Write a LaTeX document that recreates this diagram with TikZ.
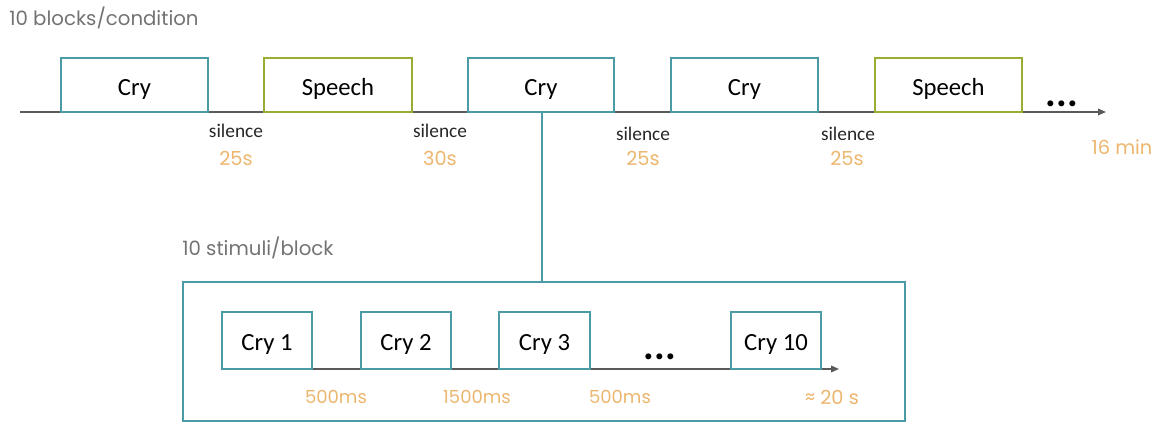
\documentclass[tikz,border=0pt]{standalone}
\usepackage{fontspec}
\setmainfont{Carlito}
\newfontfamily\gothic{Poppins}
\usetikzlibrary{arrows.meta}
\definecolor{teal}{RGB}{75,155,165}
\definecolor{olive}{RGB}{155,172,50}
\definecolor{orng}{RGB}{236,182,110}
\definecolor{greytxt}{RGB}{115,115,115}
\definecolor{axis}{RGB}{90,90,90}
\tikzset{
  crybox/.style={draw=teal, line width=1.6pt, fill=white, inner sep=0pt},
  speechbox/.style={draw=olive, line width=1.6pt, fill=white, inner sep=0pt},
  lbl/.style={font=\fontsize{18.5}{20}\selectfont, text=black, text height=17pt, text depth=1pt},
  ilbl/.style={font=\fontsize{18.5}{20}\selectfont, text=black, text height=16pt, text depth=1pt},
  sil/.style={font=\fontsize{14.5}{16}\selectfont, text=black!85, inner sep=0pt},
  dur/.style={font=\gothic\fontsize{14.5}{16}\selectfont, text=orng, inner sep=0pt},
  ms/.style={font=\gothic\fontsize{13.5}{16}\selectfont, text=orng, inner sep=0pt},
  ttl/.style={font=\gothic\fontsize{14.8}{16}\selectfont, text=greytxt, inner sep=0pt},
  axisline/.style={draw=axis, line width=1pt},
  dots/.style={font=\bfseries\fontsize{30}{30}\selectfont, inner sep=0pt},
}
\begin{document}
\begin{tikzpicture}[x=0.75pt,y=-0.75pt]
\useasboundingbox (0,0) rectangle (1167,423);
% title
\node[ttl, anchor=west] (title) at (9,18) {10 blocks/condition};
% timeline
\coordinate (tlstart) at (20,112);
\coordinate (tlend) at (1106,112);
\draw[axisline, -{Triangle[length=6pt,width=5pt]}] (tlstart) -- (tlend);
% top boxes
\node[crybox, minimum width=147*0.75pt, minimum height=54*0.75pt, lbl] (b1) at (134.5,85) {Cry};
\node[speechbox, minimum width=148*0.75pt, minimum height=54*0.75pt, lbl] (b2) at (338,85) {Speech};
\node[crybox, minimum width=146*0.75pt, minimum height=54*0.75pt, lbl] (b3) at (541,85) {Cry};
\node[crybox, minimum width=147*0.75pt, minimum height=54*0.75pt, lbl] (b4) at (744.5,85) {Cry};
\node[speechbox, minimum width=147*0.75pt, minimum height=54*0.75pt, lbl] (b5) at (948.5,85) {Speech};
\node[dots] (topdots) at (1062,104) {...};
% silences
\node[sil] (s1) at (236,131) {silence};
\node[dur] (d1) at (236,158) {25s};
\node[sil] (s2) at (440,131) {silence};
\node[dur] (d2) at (440,158) {30s};
\node[sil] (s3) at (643,134) {silence};
\node[dur] (d3) at (643,158) {25s};
\node[sil] (s4) at (848,134) {silence};
\node[dur] (d4) at (847,158) {25s};
\node[dur] (total) at (1122,147) {16 min};
% block detail
\node[ttl, anchor=west] (title2) at (182,248) {10 stimuli/block};
\node[draw=teal, line width=1.6pt, minimum width=722*0.75pt, minimum height=139*0.75pt, inner sep=0pt] (big) at (544,351.5) {};
\draw[draw=teal, line width=1pt] (b3.south -| 542,0) -- (big.north -| 542,0);
% inner timeline
\coordinate (itstart) at (222,369);
\coordinate (itend) at (839,369);
\draw[axisline, -{Triangle[length=6pt,width=5pt]}] (itstart) -- (itend);
\node[crybox, minimum width=90*0.75pt, minimum height=57*0.75pt, ilbl] (c1) at (267,340.5) {Cry 1};
\node[crybox, minimum width=90*0.75pt, minimum height=57*0.75pt, ilbl] (c2) at (406,340.5) {Cry 2};
\node[crybox, minimum width=91*0.75pt, minimum height=57*0.75pt, ilbl] (c3) at (544.5,340.5) {Cry 3};
\node[crybox, minimum width=90*0.75pt, minimum height=57*0.75pt, ilbl] (c10) at (776,340.5) {Cry 10};
\node[dots] (indots) at (660,357) {...};
\node[ms] (m1) at (336,397) {500ms};
\node[ms] (m2) at (477,397) {1500ms};
\node[ms] (m3) at (620,397) {500ms};
\node[dur] (m4) at (832,397) {≈ 20 s};
\end{tikzpicture}
\end{document}
